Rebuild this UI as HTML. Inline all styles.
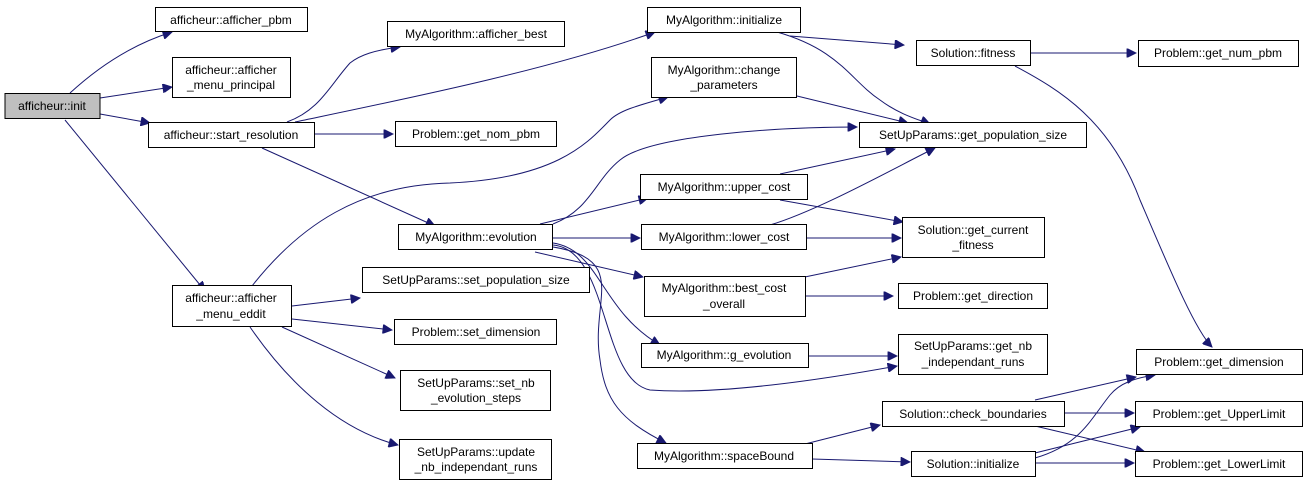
<!DOCTYPE html>
<html><head><meta charset="utf-8"><style>
html,body{margin:0;padding:0;background:#fff;}
svg{display:block;}
text{font-family:"Liberation Sans",Arial,sans-serif;font-size:12px;fill:#000;text-anchor:middle;}
rect{fill:#fff;stroke:#000;stroke-width:1;}
path{fill:none;stroke:#191970;stroke-width:1;}
</style></head><body>
<svg width="1305" height="489" viewBox="0 0 1305 489" xmlns="http://www.w3.org/2000/svg">
<defs><marker id="a" viewBox="0 0 10 10" refX="10" refY="5" markerWidth="12" markerHeight="9" markerUnits="userSpaceOnUse" orient="auto"><path d="M0,0 L10,5 L0,10 z" style="fill:#191970;stroke:#191970"/></marker></defs>
<g marker-end="url(#a)">
<path d="M70,93 C95,70 130,45 172,32"/>
<path d="M100,98 L172,87"/>
<path d="M100,114 L150,123"/>
<path d="M65,120 L205,291"/>
<path d="M287,122 C320,110 330,85 350,63 C360,55 375,50 400,47"/>
<path d="M295,122 C400,100 550,70 655,32"/>
<path d="M315,134 L393,134"/>
<path d="M262,148 L435,226"/>
<path d="M252,286 C300,225 360,185 450,183 C560,178 590,140 610,120 C620,110 640,105 668,97"/>
<path d="M292,306 L360,298"/>
<path d="M292,319 L392,330"/>
<path d="M282,327 L395,378"/>
<path d="M250,327 C290,385 340,430 398,445"/>
<path d="M553,224 C590,210 595,180 620,160 C650,135 780,127 857,127"/>
<path d="M540,224 L648,198"/>
<path d="M553,238 L640,238"/>
<path d="M535,252 L643,277"/>
<path d="M553,243 C600,250 600,310 660,345"/>
<path d="M553,245 C610,250 600,380 650,390 C720,395 820,380 897,366"/>
<path d="M553,247 C630,260 590,300 600,360 C605,400 620,420 666,443"/>
<path d="M777,32 C840,50 850,80 880,100 C900,115 920,120 930,124"/>
<path d="M790,36 L904,45"/>
<path d="M797,96 L908,123"/>
<path d="M780,174 L895,149"/>
<path d="M770,225 C820,210 900,165 935,148"/>
<path d="M780,200 L903,222"/>
<path d="M807,238 L901,238"/>
<path d="M800,278 L901,257"/>
<path d="M806,296 L893,296"/>
<path d="M809,356 L897,356"/>
<path d="M1031,53 L1136,53"/>
<path d="M1015,66 C1060,90 1110,120 1140,200 C1170,270 1195,330 1212,347"/>
<path d="M805,444 L880,425"/>
<path d="M812,459 L910,462"/>
<path d="M1035,400 L1136,377"/>
<path d="M1065,413 L1134,413"/>
<path d="M1035,426 L1145,452"/>
<path d="M1035,453 L1140,427"/>
<path d="M1035,458 C1080,445 1090,420 1110,395 C1120,383 1135,378 1155,375"/>
<path d="M1035,463 L1134,463"/>
</g>
<rect x="5" y="93.5" width="95" height="25" style="fill:#bfbfbf"/><text x="52" y="110">afficheur::init</text>
<rect x="155.5" y="7.5" width="152" height="24"/><text x="231" y="24">afficheur::afficher_pbm</text>
<rect x="172.5" y="57.5" width="118" height="40"/><text x="231" y="74">afficheur::afficher</text><text x="231" y="89">_menu_principal</text>
<rect x="148.5" y="122.5" width="166" height="25"/><text x="231" y="139">afficheur::start_resolution</text>
<rect x="172.5" y="285.5" width="119" height="41"/><text x="231" y="302">afficheur::afficher</text><text x="231" y="318">_menu_eddit</text>
<rect x="387.5" y="21.5" width="177" height="25"/><text x="476" y="38">MyAlgorithm::afficher_best</text>
<rect x="395.5" y="121.5" width="161" height="25"/><text x="476" y="138">Problem::get_nom_pbm</text>
<rect x="398.5" y="224.5" width="154" height="25"/><text x="476" y="241">MyAlgorithm::evolution</text>
<rect x="362.5" y="267.5" width="227" height="25"/><text x="476" y="284">SetUpParams::set_population_size</text>
<rect x="394.5" y="319.5" width="162" height="25"/><text x="476" y="336">Problem::set_dimension</text>
<rect x="400.5" y="370.5" width="150" height="40"/><text x="476" y="387">SetUpParams::set_nb</text><text x="476" y="402">_evolution_steps</text>
<rect x="399.5" y="439.5" width="152" height="40"/><text x="476" y="456">SetUpParams::update</text><text x="476" y="471">_nb_independant_runs</text>
<rect x="647.5" y="7.5" width="153" height="25"/><text x="724" y="24">MyAlgorithm::initialize</text>
<rect x="651.5" y="57.5" width="145" height="40"/><text x="724" y="74">MyAlgorithm::change</text><text x="724" y="89">_parameters</text>
<rect x="640.5" y="174.5" width="167" height="25"/><text x="724" y="191">MyAlgorithm::upper_cost</text>
<rect x="641.5" y="224.5" width="165" height="25"/><text x="724" y="241">MyAlgorithm::lower_cost</text>
<rect x="644.5" y="276.5" width="161" height="40"/><text x="724" y="292">MyAlgorithm::best_cost</text><text x="724" y="308">_overall</text>
<rect x="641.5" y="343.5" width="167" height="24"/><text x="724" y="359">MyAlgorithm::g_evolution</text>
<rect x="637.5" y="443.5" width="175" height="25"/><text x="724" y="460">MyAlgorithm::spaceBound</text>
<rect x="916.5" y="40.5" width="114" height="25"/><text x="973" y="57">Solution::fitness</text>
<rect x="859.5" y="122.5" width="227" height="25"/><text x="973" y="139">SetUpParams::get_population_size</text>
<rect x="902.5" y="217.5" width="142" height="40"/><text x="973" y="234">Solution::get_current</text><text x="973" y="249">_fitness</text>
<rect x="898.5" y="283.5" width="149" height="25"/><text x="973" y="300">Problem::get_direction</text>
<rect x="898.5" y="334.5" width="149" height="40"/><text x="973" y="350">SetUpParams::get_nb</text><text x="973" y="366">_independant_runs</text>
<rect x="882.5" y="401.5" width="182" height="25"/><text x="973" y="418">Solution::check_boundaries</text>
<rect x="911.5" y="451.5" width="124" height="25"/><text x="973" y="468">Solution::initialize</text>
<rect x="1138.5" y="40.5" width="160" height="26"/><text x="1218" y="57">Problem::get_num_pbm</text>
<rect x="1136.5" y="349.5" width="166" height="25"/><text x="1219" y="366">Problem::get_dimension</text>
<rect x="1135.5" y="401.5" width="167" height="25"/><text x="1219" y="418">Problem::get_UpperLimit</text>
<rect x="1135.5" y="451.5" width="167" height="25"/><text x="1219" y="468">Problem::get_LowerLimit</text>
</svg>
</body></html>
